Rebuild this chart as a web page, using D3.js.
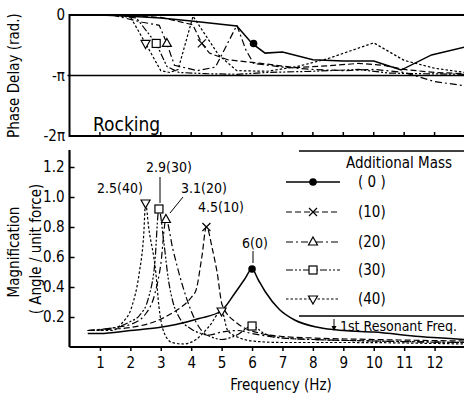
<!DOCTYPE html>
<html>
<head>
<meta charset="utf-8">
<script src="https://cdn.jsdelivr.net/npm/d3@7"></script>
<style>
  body { margin: 0; background: #fff; }
  svg { display: block; }
  text { font-family: "Liberation Sans Narrow", "DejaVu Sans Condensed", "Liberation Sans", sans-serif; fill: #000; }
</style>
</head>
<body>
<script>
var svgWidth = 464;
var svgHeight = 396;

// series: additional mass cases
var masses = ["0", "10", "20", "30", "40"];
var dashes = [null, "6,3", "7,3,2,3", "7,2,2,2,2,2", "2.5,2"];
var symbols = ["circle", "cross", "up", "square", "down"];

// phase delay (in units of -pi) vs frequency
var phase0 = [[1, 0.0], [2, 0.02], [3, 0.05], [4, 0.1], [5.5, 0.18], [6, 0.47], [6.43, 0.63], [7, 0.61], [8, 0.74], [9, 0.76], [10, 0.76], [10.9, 0.91], [11.9, 0.66], [13, 0.53]];
var phase10 = [[1.5, 0.0], [3, 0.04], [4.05, 0.16], [4.35, 0.47], [4.6, 0.63], [5.2, 0.74], [6.3, 0.8], [7.4, 0.87], [8.5, 0.84], [9.5, 0.8], [10.3, 0.83], [11, 0.9], [12, 0.95], [13, 0.97]];
var phase20 = [[1.4, 0.0], [2.4, 0.12], [2.95, 0.17], [3.2, 0.47], [3.45, 0.83], [4.2, 0.92], [4.8, 0.86], [5.5, 0.17], [5.8, 0.58], [6.05, 0.8], [7, 0.86], [8, 0.9], [9, 0.92], [10, 0.9], [11, 0.95], [12, 1.1], [13, 1.17]];
var phase30 = [[1.4, 0.0], [2.2, 0.05], [2.85, 0.47], [3.2, 0.85], [3.6, 0.95], [4.5, 0.97], [5.5, 0.98], [6.5, 0.95], [8, 0.93], [9.5, 0.9], [10.5, 0.96], [11.5, 0.97], [13, 0.98]];
var phase40 = [[1.6, 0.0], [2.0, 0.03], [2.5, 0.47], [3.0, 0.92], [3.3, 0.95], [3.57, 0.9], [4.06, 0.02], [4.9, 0.66], [5.5, 0.92], [6.5, 0.93], [7.5, 0.85], [8.5, 0.72], [10, 0.46], [11, 0.75], [12, 0.88], [13, 0.95]];
var phaseMarkX = [6.05, 4.35, 3.2, 2.85, 2.5];
var phaseMarkY = [0.47, 0.47, 0.47, 0.47, 0.47];

// magnification (angle / unit force) vs frequency
var mag0 = [[0.6, 0.09], [1, 0.09], [2, 0.11], [2.94, 0.13], [3.5, 0.15], [4.26, 0.19], [4.98, 0.24], [5.44, 0.36], [5.75, 0.45], [6.0, 0.52], [6.2, 0.45], [6.43, 0.37], [6.9, 0.25], [7.4, 0.18], [8.2, 0.13], [9, 0.11], [10, 0.1], [11.5, 0.07], [13, 0.05]];
var mag10 = [[0.6, 0.11], [1.5, 0.12], [2, 0.13], [2.94, 0.18], [3.4, 0.23], [3.7, 0.27], [4.0, 0.33], [4.16, 0.38], [4.35, 0.6], [4.5, 0.8], [4.7, 0.65], [4.85, 0.5], [5.02, 0.28], [5.5, 0.16], [6.3, 0.09], [7, 0.07], [8, 0.06], [10, 0.05], [13, 0.04]];
var mag20 = [[0.6, 0.11], [1.5, 0.13], [2, 0.15], [2.5, 0.22], [2.8, 0.35], [3.0, 0.55], [3.17, 0.85], [3.4, 0.65], [3.7, 0.42], [4.0, 0.24], [4.3, 0.12], [4.6, 0.08], [5.0, 0.1], [5.5, 0.11], [6, 0.09], [7, 0.06], [8, 0.05], [10, 0.04], [13, 0.03]];
var mag30 = [[0.6, 0.11], [1.5, 0.13], [2.0, 0.17], [2.3, 0.21], [2.6, 0.33], [2.8, 0.55], [2.94, 0.92], [3.1, 0.7], [3.25, 0.45], [3.4, 0.3], [3.6, 0.2], [4.0, 0.12], [4.5, 0.08], [5.0, 0.05], [5.5, 0.08], [6.0, 0.14], [6.4, 0.09], [7, 0.06], [8, 0.05], [10, 0.04], [13, 0.03]];
var mag40 = [[0.6, 0.11], [1.4, 0.11], [1.73, 0.16], [2.05, 0.27], [2.29, 0.49], [2.44, 0.75], [2.5, 0.96], [2.6, 0.8], [2.84, 0.49], [2.94, 0.27], [3.1, 0.1], [3.37, 0.03], [3.76, 0.02], [4.16, 0.05], [4.6, 0.14], [5.0, 0.24], [5.2, 0.11], [5.6, 0.06], [6, 0.04], [7, 0.03], [9, 0.03], [13, 0.02]];
// resonance markers on the magnification curves
var peakX = [6.0, 4.5, 3.17, 2.94, 2.5];
var peakY = [0.52, 0.8, 0.85, 0.92, 0.96];
var extraMarkX = [5.0, 6.0];
var extraMarkY = [0.24, 0.14];
var extraMarkSym = ["down", "square"];
var peakLabels = ["6(0)", "4.5(10)", "3.1(20)", "2.9(30)", "2.5(40)"];

var xTicks = [1, 2, 3, 4, 5, 6, 7, 8, 9, 10, 11, 12];
var magTicks = [0.2, 0.4, 0.6, 0.8, 1.0, 1.2];
var phaseTicks = [0, -1, -2];
var phaseTickLabels = ["0", "-\u03c0", "-2\u03c0"];

var phaseData = [phase0, phase10, phase20, phase30, phase40];
var magData = [mag0, mag10, mag20, mag30, mag40];

var svg = d3.select("body").append("svg")
  .attr("width", svgWidth)
  .attr("height", svgHeight);

var x = d3.scaleLinear().domain([0, 13]).range([69.5, 465]);
var yP = d3.scaleLinear().domain([0, -2]).range([15, 136]);
var yM = d3.scaleLinear().domain([0, 1.2]).range([347, 167]);

function drawSymbol(g, kind, cx, cy) {
  var s = 4;
  if (kind == "circle") {
    g.append("circle").attr("cx", cx).attr("cy", cy).attr("r", 3.8).attr("fill", "#000");
  } else if (kind == "cross") {
    g.append("path").attr("d", `M${cx - s},${cy - s}L${cx + s},${cy + s}M${cx - s},${cy + s}L${cx + s},${cy - s}`)
      .attr("stroke", "#000").attr("stroke-width", 1.2);
  } else if (kind == "up") {
    g.append("path").attr("d", `M${cx},${cy - s - 1}L${cx + s + 0.5},${cy + s - 1}L${cx - s - 0.5},${cy + s - 1}Z`)
      .attr("fill", "#fff").attr("stroke", "#000").attr("stroke-width", 1.2);
  } else if (kind == "down") {
    g.append("path").attr("d", `M${cx},${cy + s + 1}L${cx + s + 0.5},${cy - s + 1}L${cx - s - 0.5},${cy - s + 1}Z`)
      .attr("fill", "#fff").attr("stroke", "#000").attr("stroke-width", 1.2);
  } else {
    g.append("rect").attr("x", cx - s).attr("y", cy - s).attr("width", 2 * s).attr("height", 2 * s)
      .attr("fill", "#fff").attr("stroke", "#000").attr("stroke-width", 1.2);
  }
}

// ---------- top panel: phase delay ----------
var phaseG = svg.append("g");
var phaseLine = d3.line().x(d => x(d[0])).y(d => yP(-d[1]));

phaseG.selectAll(".pl")
  .data(phaseData)
  .enter()
  .append("path")
  .attr("d", d => phaseLine(d))
  .attr("fill", "none")
  .attr("stroke", "#000")
  .attr("stroke-width", (d, i) => i == 0 ? 1.5 : 1.2)
  .attr("stroke-dasharray", (d, i) => dashes[i]);

phaseMarkX.forEach(function(v, i) {
  drawSymbol(phaseG, symbols[i], x(v), yP(-phaseMarkY[i]));
});

// frame
phaseG.append("path")
  .attr("d", `M${svgWidth},${yP(0)}H${x(0)}V${yP(-2)}H${svgWidth}`)
  .attr("fill", "none").attr("stroke", "#000").attr("stroke-width", 2);
phaseG.append("line")
  .attr("x1", x(0) - 2).attr("x2", svgWidth)
  .attr("y1", yP(-1)).attr("y2", yP(-1))
  .attr("stroke", "#000").attr("stroke-width", 1.5);

phaseG.selectAll(".pt")
  .data(xTicks)
  .enter()
  .append("line")
  .attr("x1", d => x(d)).attr("x2", d => x(d))
  .attr("y1", yP(-2)).attr("y2", yP(-2) - 4)
  .attr("stroke", "#000").attr("stroke-width", 1.5);

phaseG.selectAll(".py")
  .data(phaseTicks)
  .enter()
  .append("text")
  .attr("x", 65)
  .attr("y", d => yP(d) + 5)
  .attr("text-anchor", "end")
  .style("font-size", "15px")
  .text((d, i) => phaseTickLabels[i]);

phaseG.append("text")
  .attr("x", 93).attr("y", 131)
  .style("font-size", "19px")
  .text("Rocking");

phaseG.append("text")
  .attr("transform", `translate(19, ${yP(-1)}) rotate(-90)`)
  .attr("text-anchor", "middle")
  .style("font-size", "15px")
  .text("Phase Delay (rad.)");

// ---------- bottom panel: magnification ----------
var magG = svg.append("g");
var magLine = d3.line().curve(d3.curveMonotoneX).x(d => x(d[0])).y(d => yM(d[1]));

magG.selectAll(".ml")
  .data(magData)
  .enter()
  .append("path")
  .attr("d", d => magLine(d))
  .attr("fill", "none")
  .attr("stroke", "#000")
  .attr("stroke-width", (d, i) => i == 0 ? 1.5 : 1.2)
  .attr("stroke-dasharray", (d, i) => dashes[i]);

peakX.forEach(function(v, i) {
  drawSymbol(magG, symbols[i], x(v), yM(peakY[i]));
});
extraMarkX.forEach(function(v, i) {
  drawSymbol(magG, extraMarkSym[i], x(v), yM(extraMarkY[i]));
});

// axes
var bottomAxis = d3.axisBottom(x).tickValues(xTicks).tickSize(4).tickFormat(d3.format("d"));
var leftAxis = d3.axisLeft(yM).tickValues(magTicks).tickSize(-5).tickFormat(d3.format(".1f"));

var bx = magG.append("g")
  .attr("transform", `translate(0, ${yM(0)})`)
  .call(bottomAxis);
bx.select(".domain").attr("d", `M${x(0)},0H${svgWidth}`).attr("stroke-width", 2.2);
bx.selectAll("line").attr("stroke-width", 1.5);
bx.selectAll("text").style("font-size", "15px").attr("dy", "0.9em").attr("y", 7);

var ly = magG.append("g")
  .attr("transform", `translate(${x(0)}, 0)`)
  .call(leftAxis);
ly.select(".domain").attr("d", `M0,150V${yM(0)}`).attr("stroke-width", 2.2);
ly.selectAll("line").attr("stroke-width", 1.5);
ly.selectAll("text").style("font-size", "15px").attr("x", -5);

magG.append("text")
  .attr("x", 281).attr("y", 390)
  .attr("text-anchor", "middle")
  .style("font-size", "15px")
  .text("Frequency (Hz)");

magG.append("text")
  .attr("transform", "translate(19, 252) rotate(-90)")
  .attr("text-anchor", "middle")
  .style("font-size", "15px")
  .text("Magnification");
magG.append("text")
  .attr("transform", "translate(41, 249) rotate(-90)")
  .attr("text-anchor", "middle")
  .style("font-size", "15px")
  .text("( Angle / unit  force)");

// peak labels
var labelPos = [[255, 248], [221, 212], [204, 193], [169, 172], [120, 193]];
peakLabels.forEach(function(t, i) {
  magG.append("text")
    .attr("x", labelPos[i][0]).attr("y", labelPos[i][1])
    .attr("text-anchor", "middle")
    .style("font-size", "14px")
    .text(t);
});
var leaders = [[253, 251, 253, 263], [160, 177, 160, 203], [183, 197, 170, 213]];
leaders.forEach(function(l) {
  magG.append("line")
    .attr("x1", l[0]).attr("y1", l[1]).attr("x2", l[2]).attr("y2", l[3])
    .attr("stroke", "#000").attr("stroke-width", 1);
});

// legend
var leg = svg.append("g");
leg.append("line").attr("x1", 299).attr("x2", svgWidth).attr("y1", 151).attr("y2", 151)
  .attr("stroke", "#000").attr("stroke-width", 1.5);
leg.append("line").attr("x1", 299).attr("x2", svgWidth).attr("y1", 316).attr("y2", 316)
  .attr("stroke", "#000").attr("stroke-width", 1.5);
leg.append("text").attr("x", 346).attr("y", 168).style("font-size", "15px").text("Additional Mass");

var legY = [182, 212, 242, 270, 299];
masses.forEach(function(m, i) {
  leg.append("line")
    .attr("x1", 286).attr("x2", 340)
    .attr("y1", legY[i]).attr("y2", legY[i])
    .attr("stroke", "#000")
    .attr("stroke-width", i == 0 ? 1.5 : 1.2)
    .attr("stroke-dasharray", dashes[i]);
  drawSymbol(leg, symbols[i], 313, legY[i]);
  leg.append("text")
    .attr("x", 358).attr("y", legY[i] + 5)
    .style("font-size", "15px")
    .text(m == "0" ? "( 0 )" : "(" + m + ")");
});

leg.append("line").attr("x1", 334).attr("x2", 334).attr("y1", 319).attr("y2", 330)
  .attr("stroke", "#000").attr("stroke-width", 1);
leg.append("path").attr("d", "M331.5,326L334,331L336.5,326Z").attr("fill", "#000");
leg.append("text").attr("x", 340).attr("y", 331).style("font-size", "14px").text("1st Resonant Freq.");
</script>
</body>
</html>
